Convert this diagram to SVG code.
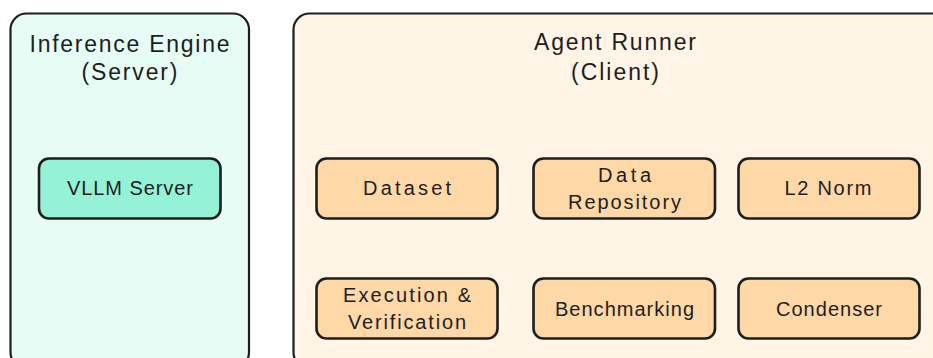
<svg xmlns="http://www.w3.org/2000/svg" width="933" height="358" viewBox="0 0 933 358">
<style>
.outer{stroke:#1e1e1e;stroke-width:2.2;}
.box{fill:#ffd8a8;stroke:#1e1e1e;stroke-width:2.6;}
.vllm{fill:#96f2d7;stroke:#1e1e1e;stroke-width:2.6;}
.t{font-family:"Liberation Sans",Arial,sans-serif;fill:#1e1e1e;text-anchor:middle;}
.title{font-size:23px;}
.lbl{font-size:20px;}
</style>
<rect width="933" height="358" fill="#ffffff"/>
<g id="inference-engine">
<rect class="outer" x="10.5" y="13.5" width="238.5" height="355" rx="16" fill="#e6fcf5"/>
<text class="t title" x="129.5" y="52" textLength="200" lengthAdjust="spacing">Inference Engine</text>
<text class="t title" x="129.5" y="80" textLength="96" lengthAdjust="spacing">(Server)</text>
</g>
<g id="agent-runner">
<rect class="outer" x="293.5" y="13.5" width="660" height="355" rx="16" fill="#fff4e6"/>
<text class="t title" x="615" y="50" textLength="162" lengthAdjust="spacing">Agent Runner</text>
<text class="t title" x="615" y="80" textLength="88" lengthAdjust="spacing">(Client)</text>
</g>
<g id="vllm-server">
<rect class="vllm" x="39" y="158.5" width="181.5" height="60" rx="10"/>
<text class="t lbl" x="130" y="195" textLength="126" lengthAdjust="spacing">VLLM Server</text>
</g>
<g id="dataset">
<rect class="box" x="316.5" y="158.5" width="181" height="60" rx="10"/>
<text class="t lbl" x="407" y="195" textLength="88" lengthAdjust="spacing">Dataset</text>
</g>
<g id="data-repository">
<rect class="box" x="533.5" y="158.5" width="181.5" height="60" rx="10"/>
<text class="t lbl" x="624.5" y="182" textLength="53" lengthAdjust="spacing">Data</text>
<text class="t lbl" x="624.5" y="209" textLength="113" lengthAdjust="spacing">Repository</text>
</g>
<g id="l2-norm">
<rect class="box" x="738.5" y="158.5" width="181" height="60" rx="10"/>
<text class="t lbl" x="828" y="195" textLength="87" lengthAdjust="spacing">L2 Norm</text>
</g>
<g id="execution-verification">
<rect class="box" x="316.5" y="278.5" width="181" height="60" rx="10"/>
<text class="t lbl" x="407" y="302" textLength="128" lengthAdjust="spacing">Execution &amp;</text>
<text class="t lbl" x="407" y="329" textLength="118" lengthAdjust="spacing">Verification</text>
</g>
<g id="benchmarking">
<rect class="box" x="533.5" y="278.5" width="181.5" height="60" rx="10"/>
<text class="t lbl" x="624.5" y="316" textLength="139" lengthAdjust="spacing">Benchmarking</text>
</g>
<g id="condenser">
<rect class="box" x="738.5" y="278.5" width="181" height="60" rx="10"/>
<text class="t lbl" x="829" y="316" textLength="106" lengthAdjust="spacing">Condenser</text>
</g>
<g id="connectors"></g>
</svg>
